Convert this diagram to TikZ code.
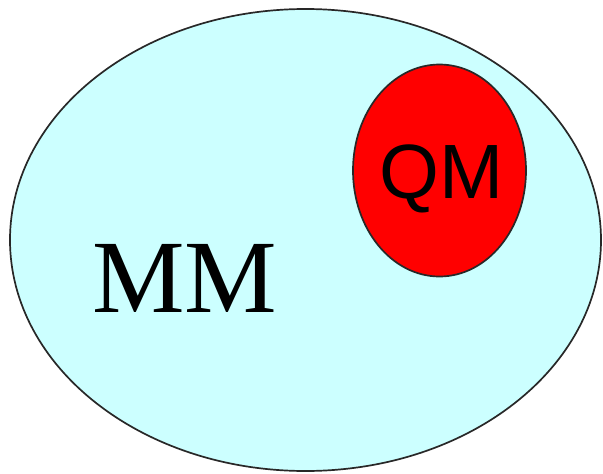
\documentclass[tikz,border=0pt]{standalone}
\usepackage{fontspec}
\setmainfont{Liberation Serif}
\newfontfamily\qmfont{Liberation Sans}
\usepackage{xcolor}
\usepackage{tikz}
\usetikzlibrary{shapes.geometric}
\definecolor{mmcyan}{RGB}{204, 255, 255}
\definecolor{qmred}{RGB}{255, 0, 0}
\definecolor{rimgray}{RGB}{40, 40, 40}

\begin{document}
\begin{tikzpicture}[
  x=1pt, y=-1pt,
  region/.style={ellipse, draw=rimgray, line width=1.7pt, inner sep=0pt},
  mmregion/.style={region, fill=mmcyan, minimum width=591pt, minimum height=462pt},
  qmregion/.style={region, fill=qmred, minimum width=173pt, minimum height=212pt},
  mmlabel/.style={anchor=base, inner sep=0pt, font=\fontsize{104}{104}\selectfont},
  qmlabel/.style={anchor=base, inner sep=0pt, font=\qmfont\fontsize{77}{77}\selectfont}
]
\useasboundingbox (0,0) rectangle (603,474);

% MM region with the QM region inside
\node[mmregion] (mm) at (305.5, 240) {};
\node[qmregion] (qm) at (439.5, 170.5) {};

% Labels
\node[mmlabel] (mmtext) at (184.5, 312) {MM};
\node[qmlabel] (qmtext) at (441.5, 198) {QM};

\end{tikzpicture}
\end{document}
